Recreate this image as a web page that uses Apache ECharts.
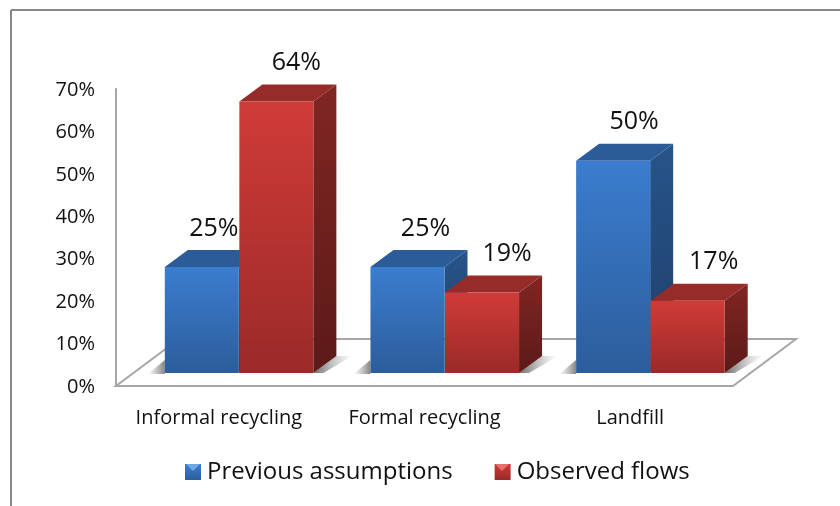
<!DOCTYPE html>
<html>
<head>
<meta charset="utf-8">
<style>html,body{margin:0;padding:0;background:#fff}#chart{width:840px;height:506px}</style>
<script src="https://cdn.jsdelivr.net/npm/echarts@6/dist/echarts.min.js"></script>
</head>
<body>
<div id="chart"></div>
<script>
// Chart data
const categories = ['Informal recycling', 'Formal recycling', 'Landfill'];
const previousAssumptions = [25, 25, 50];
const observedFlows = [64, 19, 17];
const yTicks = [0, 10, 20, 30, 40, 50, 60, 70];

const FONT = '"Open Sans", "Noto Sans", sans-serif';
const TEXT = '#111';

// Oblique projection used to fake depth on the plain cartesian grid
const FLOOR_DX = 63, FLOOR_DY = 47;
const BAR_DX = 23, BAR_DY = 17;
const BASE_DX = 20, BASE_DY = 13;
const BAR_RATIO = 0.36;

// Sideways nudge of each value label from its bar's centre, per series and category
const LABEL_NUDGE = [[12, 18, 21], [20, 25, 26]];

const vgrad = (a, b) => new echarts.graphic.LinearGradient(0, 0, 0, 1, [
  { offset: 0, color: a }, { offset: 1, color: b }
]);
const hgrad = (a, b) => new echarts.graphic.LinearGradient(0, 0, 1, 0, [
  { offset: 0, color: a }, { offset: 1, color: b }
]);

const palettes = {
  blue: {
    front: ['#3b7dcf', '#2c5d9b'],
    side: ['#27548a', '#1e3f69'],
    top: '#2c5c97'
  },
  red: {
    front: ['#d03b38', '#9a2a28'],
    side: ['#802623', '#5c1a18'],
    top: '#962c29'
  }
};

function poly(points, fill) {
  return { type: 'polygon', shape: { points }, style: { fill } };
}

// Cuboid for one bar: shadow, side, top, front, then its value label
function cuboid(seriesPos, palette) {
  return function (params, api) {
    const value = api.value(1);
    const cat = api.value(0);
    const topPt = api.coord([cat, value]);
    const basePt = api.coord([cat, 0]);
    const band = api.size([1, 0])[0];
    const w = band * BAR_RATIO;
    const x0 = topPt[0] + BASE_DX + (seriesPos === 0 ? -w : 0.5);
    const x1 = x0 + w;
    const yt = topPt[1] - BASE_DY;
    const yb = basePt[1] - BASE_DY;
    const children = [];
    if (seriesPos === 0) {
      children.push(poly(
        [[x0 - 17, yb + 1], [x0, yb - 13], [x0, yb + 1]],
        hgrad('rgba(120,120,120,0)', 'rgba(90,90,90,0.75)')
      ));
    } else {
      children.push(poly(
        [[x1, yb], [x1 + BAR_DX, yb - BAR_DY], [x1 + BAR_DX + 16, yb - BAR_DY], [x1 + 10, yb]],
        hgrad('rgba(80,80,80,0.85)', 'rgba(150,150,150,0)')
      ));
    }
    children.push(
      poly([[x1, yt], [x1 + BAR_DX, yt - BAR_DY], [x1 + BAR_DX, yb - BAR_DY], [x1, yb]], vgrad(palette.side[0], palette.side[1])),
      poly([[x0, yt], [x0 + BAR_DX, yt - BAR_DY], [x1 + BAR_DX, yt - BAR_DY], [x1, yt]], palette.top),
      {
        type: 'rect',
        shape: { x: x0, y: yt, width: w, height: yb - yt },
        style: { fill: vgrad(palette.front[0], palette.front[1]) }
      },
      {
        type: 'text',
        z2: 5,
        style: {
          text: value + '%',
          x: (x0 + x1) / 2 + LABEL_NUDGE[seriesPos][cat],
          y: yt - 38.5,
          align: 'center',
          verticalAlign: 'middle',
          font: '400 25px ' + FONT,
          fill: TEXT
        }
      }
    );
    return { type: 'group', children };
  };
}

// Floor plate spanning the grid's width, receding to the upper right
function floor(params, api) {
  const half = api.size([1, 0])[0] / 2;
  const first = api.coord([0, 0]);
  const last = api.coord([categories.length - 1, 0]);
  const a = [first[0] - half, first[1]];
  const b = [last[0] + half, last[1]];
  return {
    type: 'polygon',
    shape: { points: [a, b, [b[0] + FLOOR_DX, b[1] - FLOOR_DY], [a[0] + FLOOR_DX, a[1] - FLOOR_DY]] },
    style: { fill: '#fff', stroke: '#a6a6a6', lineWidth: 2 }
  };
}

const option = {
  animation: false,
  backgroundColor: '#fff',
  grid: { left: 116, right: 107, top: 89, bottom: 120 },
  xAxis: {
    type: 'category',
    data: categories,
    axisTick: { show: false },
    axisLine: { show: false },
    axisLabel: { color: TEXT, fontFamily: FONT, fontSize: 20, margin: 22, interval: 0 }
  },
  yAxis: {
    type: 'value',
    min: yTicks[0],
    max: yTicks[yTicks.length - 1],
    interval: 10,
    splitLine: { show: false },
    axisTick: { show: false },
    axisLine: { show: true, lineStyle: { color: '#a6a6a6', width: 2 } },
    axisLabel: {
      color: TEXT, fontFamily: FONT, fontSize: 20, margin: 21,
      verticalAlign: 'top', lineHeight: 2, formatter: '{value}%'
    }
  },
  legend: {
    left: 185,
    top: 460,
    padding: 0,
    itemWidth: 16,
    itemHeight: 16,
    itemGap: 42,
    icon: 'rect',
    textStyle: { color: TEXT, fontFamily: FONT, fontSize: 24, padding: [0, 0, 0, 1] },
    data: [
      { name: 'Previous assumptions', itemStyle: { color: vgrad('#3b7dcf', '#2c5d9b') } },
      { name: 'Observed flows', itemStyle: { color: vgrad('#d03b38', '#9a2a28') } }
    ]
  },
  series: [
    { type: 'custom', name: 'floor', renderItem: floor, data: [[0, 0]], silent: true, z: 1 },
    {
      type: 'custom', name: 'Previous assumptions', renderItem: cuboid(0, palettes.blue),
      encode: { x: 0, y: 1 }, z: 2,
      data: previousAssumptions.map((v, i) => [i, v])
    },
    {
      type: 'custom', name: 'Observed flows', renderItem: cuboid(1, palettes.red),
      encode: { x: 0, y: 1 }, z: 3,
      data: observedFlows.map((v, i) => [i, v])
    }
  ],
  graphic: [
    // Outer frame: top and left rules only
    { type: 'line', z: 10, shape: { x1: 11, y1: 10, x2: 840, y2: 10 }, style: { stroke: '#888', lineWidth: 2 } },
    { type: 'line', z: 10, shape: { x1: 11, y1: 10, x2: 11, y2: 506 }, style: { stroke: '#888', lineWidth: 2 } },
    // Highlight wedges on the legend swatches
    { type: 'polygon', z: 10, shape: { points: [[186, 464], [200, 464], [193, 471]] }, style: { fill: '#6ea6e6' } },
    { type: 'polygon', z: 10, shape: { points: [[495, 464], [509, 464], [502, 471]] }, style: { fill: '#e8706c' } }
  ]
};

const chart = echarts.init(document.getElementById('chart'), null, { renderer: 'canvas' });
chart.setOption(option);
</script>
</body>
</html>
